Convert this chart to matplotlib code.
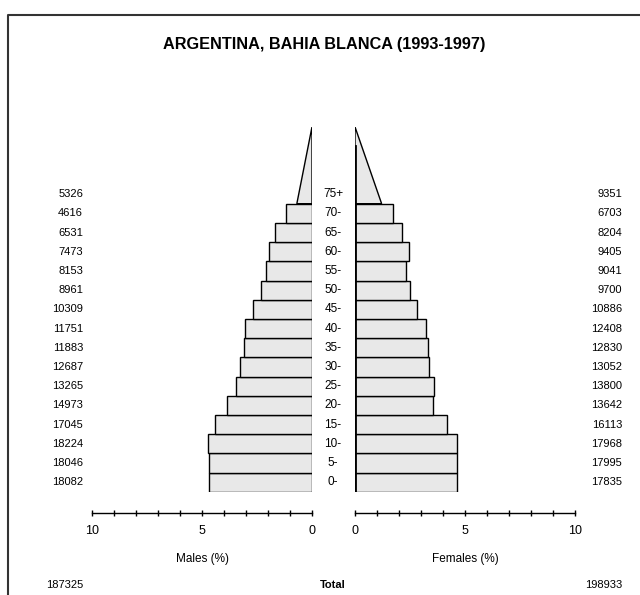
import matplotlib
matplotlib.use("Agg")
import matplotlib.pyplot as plt
from matplotlib.transforms import blended_transform_factory
from matplotlib.lines import Line2D
from matplotlib.ticker import MultipleLocator, FixedLocator

plt.rcParams['font.family'] = ['Liberation Sans', 'DejaVu Sans']

title = "ARGENTINA, BAHIA BLANCA (1993-1997)"
age_groups = ["0-", "5-", "10-", "15-", "20-", "25-", "30-", "35-", "40-", "45-",
              "50-", "55-", "60-", "65-", "70-", "75+"]
males = [18082, 18046, 18224, 17045, 14973, 13265, 12687, 11883, 11751, 10309,
         8961, 8153, 7473, 6531, 4616, 5326]
females = [17835, 17995, 17968, 16113, 13642, 13800, 13052, 12830, 12408, 10886,
           9700, 9041, 9405, 8204, 6703, 9351]
male_total = 187325
female_total = 198933

grand = male_total + female_total
W, H = 640, 595
fig = plt.figure(figsize=(W / 100, H / 100), dpi=100)

y0_px, band_px = 491.7, 19.2
ymax = 19
bottom = (H - y0_px) / H
height = ymax * band_px / H

ax_m = fig.add_axes([92 / W, bottom, 220 / W, height])
ax_f = fig.add_axes([355 / W, bottom, 220 / W, height])

face = '#e8e8e8'
n = len(age_groups)
for ax, vals in ((ax_m, males), (ax_f, females)):
    pct = [v / grand * 100 for v in vals]
    for i in range(n - 1):
        ax.barh(i, pct[i], height=1.0, align='edge', color=face,
                edgecolor='black', linewidth=1.0)
    p = pct[-1]
    ax.fill([0, p / 2, 0], [n - 1, n - 1, n + 3], facecolor=face,
            edgecolor='black', linewidth=1.0)
    ax.set_xlim(0, 10)
    ax.set_ylim(0, ymax)
    for s in ('top', 'right', 'left'):
        ax.spines[s].set_visible(False)
    ax.spines['bottom'].set_position(('outward', 15.2))
    ax.spines['bottom'].set_linewidth(1.0)
    ax.set_yticks([])
    ax.xaxis.set_major_locator(FixedLocator([0, 5, 10]))
    ax.xaxis.set_minor_locator(MultipleLocator(1))
    ax.tick_params(axis='x', which='both', direction='inout', length=4,
                   width=1.0, labelsize=9, pad=7)
    ax.patch.set_visible(False)

ax_m.invert_xaxis()
ax_f.axvline(0, ymin=0, ymax=(n + 2) / ymax, color='black', linewidth=2)

ax_m.set_xlabel("Males (%)", fontsize=8.5, labelpad=11)
ax_f.set_xlabel("Females (%)", fontsize=8.5, labelpad=11)

tr = blended_transform_factory(fig.transFigure, ax_m.transData)
for i, lab in enumerate(age_groups):
    yc = i + 0.5
    fig.text(333 / W, yc, lab, transform=tr, ha='center', va='center', fontsize=8.5)
    fig.text(83 / W, yc, str(males[i]), transform=tr, ha='right', va='center', fontsize=8)
    fig.text(622 / W, yc, str(females[i]), transform=tr, ha='right', va='center', fontsize=8)

ty = 1 - 585 / H
fig.text(83 / W, ty, str(male_total), ha='right', va='center', fontsize=8)
fig.text(333 / W, ty, "Total", ha='center', va='center', fontsize=8, fontweight='bold')
fig.text(622 / W, ty, str(female_total), ha='right', va='center', fontsize=8)

fig.text(324 / W, 1 - 45 / H, title, ha='center', va='center', fontsize=11.7,
         fontweight='bold')

fig.add_artist(Line2D([8 / W, 8 / W, 1.0], [0, 1 - 15 / H, 1 - 15 / H],
                      transform=fig.transFigure, color='#333333', linewidth=1.5))

fig.savefig("out.png", dpi=100)
